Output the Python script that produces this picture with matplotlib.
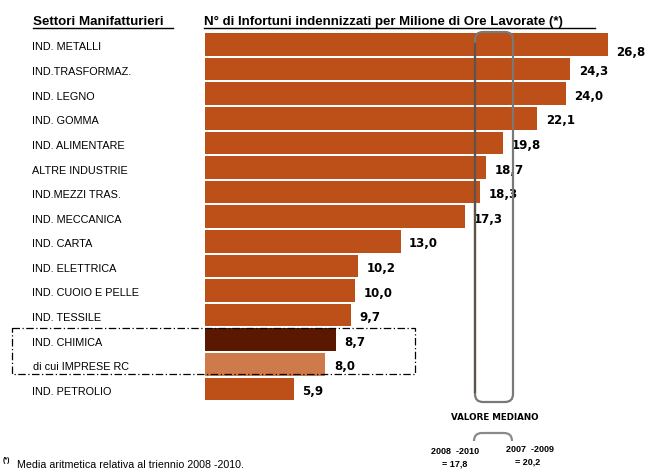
import matplotlib
matplotlib.use("Agg")
import matplotlib.pyplot as plt
from matplotlib.patches import FancyBboxPatch, Rectangle

# settori e indici di frequenza (media 2008-2010)
settori = ["IND. METALLI", "IND.TRASFORMAZ.", "IND. LEGNO", "IND. GOMMA",
           "IND. ALIMENTARE", "ALTRE INDUSTRIE", "IND.MEZZI TRAS.",
           "IND. MECCANICA", "IND. CARTA", "IND. ELETTRICA",
           "IND. CUOIO E PELLE", "IND. TESSILE", "IND. CHIMICA",
           "di cui IMPRESE RC", "IND. PETROLIO"]
valori = [26.8, 24.3, 24.0, 22.1, 19.8, 18.7, 18.3, 17.3, 13.0, 10.2,
          10.0, 9.7, 8.7, 8.0, 5.9]
mediana_2008_2010 = 17.8
mediana_2007_2009 = 20.2

ARANCIO = "#BD4F19"
colori = [ARANCIO] * len(valori)
colori[settori.index("IND. CHIMICA")] = "#5A1800"
colori[settori.index("di cui IMPRESE RC")] = "#CF7A4B"

plt.rcParams["font.family"] = ["Liberation Sans", "DejaVu Sans"]


def virgola(v):
    return f"{v:.1f}".replace(".", ",")


W, H = 646, 470
fig = plt.figure(figsize=(W / 100, H / 100), dpi=100)

# asse delle barre: x=0 a 205 px, 15.04 px per unità; righe ogni 24.6 px
x0, px_unit = 205, 15.04
xmax = 29
row0, pitch = 44.5, 24.6
n = len(valori)
ax = fig.add_axes([x0 / W, 1 - (row0 + pitch * (n - 0.5)) / H,
                   xmax * px_unit / W, pitch * n / H])
ax.barh(range(n), valori, height=0.92, color=colori)
ax.set_xlim(0, xmax)
ax.set_ylim(n - 0.5, -0.5)
ax.axis("off")

for i, v in enumerate(valori):
    dy = (7.5 if i == 0 else 2.5) / pitch
    ax.text(v + 8.5 / px_unit, i + dy, virgola(v),
            ha="left", va="center", fontsize=8.5, fontweight="bold",
            family="DejaVu Sans", clip_on=False)

# livello in pixel per decorazioni e testi
ov = fig.add_axes([0, 0, 1, 1], zorder=3)
ov.set_xlim(0, W)
ov.set_ylim(H, 0)
ov.axis("off")

for i, s in enumerate(settori):
    xs = 33 if s.startswith("di cui") else 32
    ov.text(xs, row0 + pitch * i + 3, s, ha="left", va="center", fontsize=7.8)

ov.text(33, 25, "Settori Manifatturieri", fontsize=9.6, fontweight="bold",
        ha="left", va="baseline")
ov.plot([33, 173], [27.5, 27.5], color="black", lw=1)
ov.text(204, 25, "N° di Infortuni indennizzati per Milione di Ore Lavorate (*)",
        fontsize=9.5, fontweight="bold", ha="left", va="baseline")
ov.plot([204, 595], [27.5, 27.5], color="black", lw=1)

# riquadro valore mediano
ov.add_patch(FancyBboxPatch((478, 35), 32, 364,
                            boxstyle="round,pad=3,rounding_size=8",
                            fill=False, ec="#7C7876", lw=1.6))
ov.plot([475, 475], [44, 392], color="#5E524C", lw=1.6)
cap = FancyBboxPatch((477, 436), 32, 40,
                     boxstyle="round,pad=3,rounding_size=8",
                     fill=False, ec="#8A8A8A", lw=1.6)
ov.add_patch(cap)
cap.set_clip_path(Rectangle((0, 0), W, 441, transform=ov.transData))

ov.text(495, 418, "VALORE MEDIANO", ha="center", va="center",
        fontsize=6.3, fontweight="bold", family="DejaVu Sans")
ov.text(455, 452, "2008  -2010", ha="center", va="center", fontsize=6.5,
        fontweight="bold")
ov.text(455, 463.5, "= " + virgola(mediana_2008_2010),
        ha="center", va="center", fontsize=6.5, fontweight="bold")
ov.text(530, 450, "2007  -2009", ha="center", va="center", fontsize=6.5,
        fontweight="bold")
ov.text(528, 461.5, "= " + virgola(mediana_2007_2009),
        ha="center", va="center", fontsize=6.5, fontweight="bold")

# cornice tratteggiata su chimica
ov.add_patch(Rectangle((12, 328), 403, 46, fill=False, ec="black",
                       lw=0.9, ls=(0, (6, 2, 1, 2)), zorder=1))

ov.text(3, 464, "(*)", fontsize=5, fontweight="bold", ha="left", va="bottom")
ov.text(17, 465, "Media aritmetica relativa al triennio 2008 -2010.",
        fontsize=7.7, ha="left", va="center")

fig.savefig("out.png", dpi=100)
